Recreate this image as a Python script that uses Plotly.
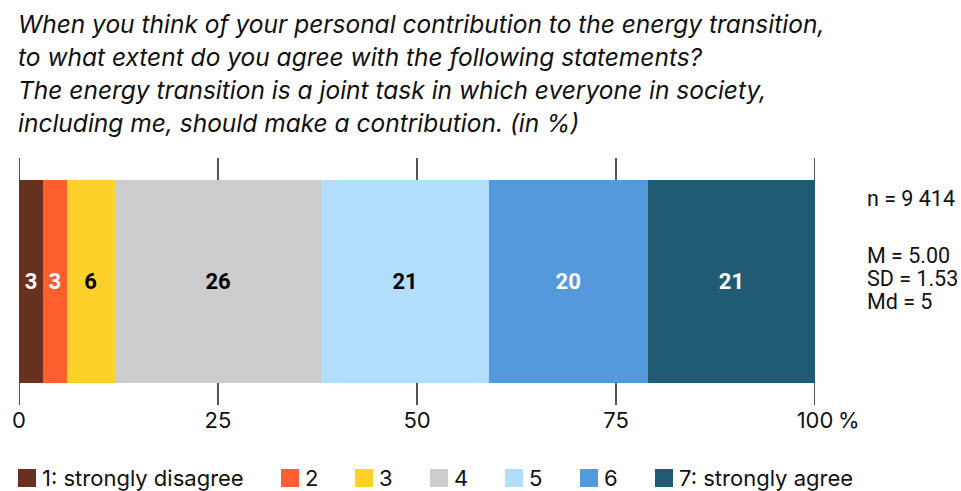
import plotly.graph_objects as go

# ---- data ----
categories = ["1: strongly disagree", "2", "3", "4", "5", "6", "7: strongly agree"]
values = [3, 3, 6, 26, 21, 20, 21]
colors = ["#67301F", "#FF5F2E", "#FDD12A", "#CCCCCC", "#B3DDFD", "#5599DD", "#1F5C74"]
label_colors = ["white", "white", "black", "black", "black", "white", "white"]
tick_vals = [0, 25, 50, 75, 100]
tick_text = ["0", "25", "50", "75", "100"]
stats = ["n = 9 414", "M = 5.00", "SD = 1.53", "Md = 5"]
title_lines = [
    "When you think of your personal contribution to the energy transition,",
    "to what extent do you agree with the following statements?",
    "The energy transition is a joint task in which everyone in society,",
    "including me, should make a contribution. (in %)",
]

W, H = 961, 491
L, R, T, B = 19, 146, 158, 86
PW, PH = W - L - R, H - T - B


def px_x(px):
    return (px - L) / PW


def px_y(py):
    return (H - B - py) / PH


FONT = "Inter"
fig = go.Figure()
for cat, v, c, lc in zip(categories, values, colors, label_colors):
    fig.add_trace(go.Bar(
        x=[v], y=["q"], orientation="h", name=cat,
        marker=dict(color=c, line=dict(width=0)),
        text=[str(v)], textposition="inside", insidetextanchor="middle",
        textfont=dict(color=lc, size=22, family="Roboto", weight="bold"),
        constraintext="none", showlegend=False, hoverinfo="skip",
    ))

# gridlines
for tv in tick_vals:
    fig.add_shape(type="line", xref="x", yref="paper", x0=tv, x1=tv, y0=0, y1=1,
                  line=dict(color="#555555", width=2), layer="below")

annotations = []
# title
for i, line in enumerate(title_lines):
    annotations.append(dict(text="<i>" + line + "</i>", xref="paper", yref="paper",
                            x=px_x(16), y=px_y(24 + i * 33), xanchor="left", yanchor="middle",
                            showarrow=False, font=dict(size=24.5, family=FONT, color="#111111")))
# % sign after 100
annotations.append(dict(text="%", xref="x", yref="paper", x=100, y=px_y(420),
                        xanchor="left", yanchor="middle", xshift=21, showarrow=False,
                        font=dict(size=22, family=FONT, color="#111111")))
# stats
stat_y = [198, 255, 278, 301]
for s, yy in zip(stats, stat_y):
    annotations.append(dict(text=s, xref="paper", yref="paper", x=px_x(865), y=px_y(yy),
                            xanchor="left", yanchor="middle", showarrow=False,
                            font=dict(size=21.5, family="Roboto", color="#111111")))
# manual legend
leg_x = [18, 281, 355, 430, 505, 580, 655]
leg_y = 478
for cat, c, lx in zip(categories, colors, leg_x):
    fig.add_shape(type="rect", xref="paper", yref="paper",
                  x0=px_x(lx), x1=px_x(lx + 18), y0=px_y(leg_y - 9), y1=px_y(leg_y + 9),
                  fillcolor=c, line=dict(width=0))
    annotations.append(dict(text=cat, xref="paper", yref="paper", x=px_x(lx + 22), y=px_y(leg_y),
                            xanchor="left", yanchor="middle", showarrow=False,
                            font=dict(size=22, family=FONT, color="#111111")))

fig.update_layout(
    width=W, height=H, margin=dict(l=L, r=R, t=T, b=B),
    paper_bgcolor="white", plot_bgcolor="white",
    barmode="stack", bargap=0.18, showlegend=False,
    xaxis=dict(range=[0, 100], tickvals=tick_vals, ticktext=tick_text, showgrid=False,
               zeroline=False, showline=False, ticks="", ticklabelstandoff=0,
               tickfont=dict(size=22, family=FONT, color="#111111")),
    yaxis=dict(showticklabels=False, showgrid=False, zeroline=False, range=[-0.5, 0.5]),
    annotations=annotations,
)

fig.write_html("out.html")
